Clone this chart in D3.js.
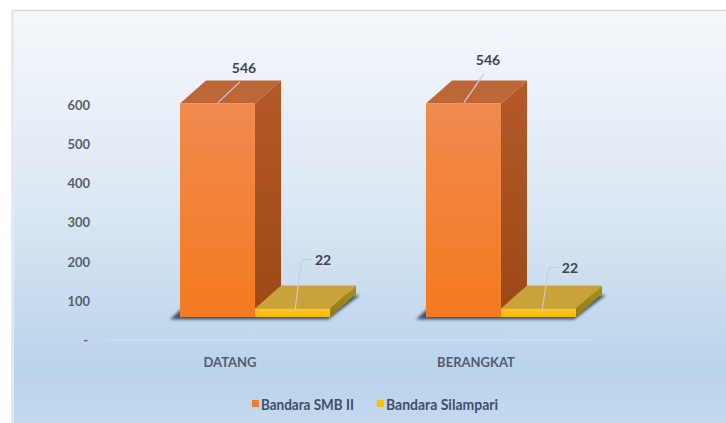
<!DOCTYPE html>
<html>
<head>
<meta charset="utf-8">
<script src="https://cdn.jsdelivr.net/npm/d3@7"></script>
<style>
  html, body { margin: 0; padding: 0; background: #ffffff; }
  svg { display: block; }
  text { font-family: Lato, "Open Sans", "DejaVu Sans", sans-serif; font-weight: 700; }
</style>
</head>
<body>
<svg id="chart" width="726" height="423"></svg>
<script>
// Passenger counts per direction for the two airports
const categories = ["DATANG", "BERANGKAT"];
const seriesNames = ["Bandara SMB II", "Bandara Silampari"];
const smbValues = [546, 546];
const silampariValues = [22, 22];
const yTickValues = [0, 100, 200, 300, 400, 500, 600];

const series = [
  { name: seriesNames[0], values: smbValues,
    front: ["#f08a4f", "#f47a1f"], side: ["#b35a27", "#9c4816"], top: "#bf6637", swatch: "#ed7d31" },
  { name: seriesNames[1], values: silampariValues,
    front: ["#ffc72c", "#f5b800"], side: ["#a88f1e", "#957c12"], top: "#c9a33a", swatch: "#ffc000" }
];

const W = 726, H = 423;
const svg = d3.select("#chart");
const defs = svg.append("defs");

// Chart area background
const bg = defs.append("linearGradient").attr("id", "bg").attr("x1", 0).attr("y1", 0).attr("x2", 0).attr("y2", 1);
bg.append("stop").attr("offset", "0%").attr("stop-color", "#f5f8fc");
bg.append("stop").attr("offset", "45%").attr("stop-color", "#dde8f4");
bg.append("stop").attr("offset", "88%").attr("stop-color", "#b9d3eb");
bg.append("stop").attr("offset", "100%").attr("stop-color", "#c4d9ed");

svg.append("rect").attr("x", 12).attr("y", 10).attr("width", W - 12).attr("height", H - 10)
  .attr("fill", "url(#bg)");
svg.append("line").attr("x1", 12).attr("x2", W).attr("y1", 10.5).attr("y2", 10.5)
  .attr("stroke", "#d8dcdf").attr("stroke-width", 1.5);
svg.append("line").attr("x1", 12.5).attr("x2", 12.5).attr("y1", 10).attr("y2", H)
  .attr("stroke", "#e4e9ef").attr("stroke-width", 3);

// Face gradients
series.forEach((s, i) => {
  const f = defs.append("linearGradient").attr("id", "front" + i).attr("x1", 0).attr("y1", 0).attr("x2", 0).attr("y2", 1);
  f.append("stop").attr("offset", "0%").attr("stop-color", s.front[0]);
  f.append("stop").attr("offset", "100%").attr("stop-color", s.front[1]);
  const sd = defs.append("linearGradient").attr("id", "side" + i).attr("x1", 0).attr("y1", 0).attr("x2", 0).attr("y2", 1);
  sd.append("stop").attr("offset", "0%").attr("stop-color", s.side[0]);
  sd.append("stop").attr("offset", "100%").attr("stop-color", s.side[1]);
});

const blur = defs.append("filter").attr("id", "shadowBlur").attr("x", "-20%").attr("y", "-50%").attr("width", "140%").attr("height", "200%");
blur.append("feGaussianBlur").attr("stdDeviation", 1.4);

// Scales
const y = d3.scaleLinear().domain([0, 600]).range([340, 105.5]);
const x = d3.scaleBand().domain(categories).range([57, 699]).paddingInner(0.39).paddingOuter(0.5);
const xs = d3.scaleBand().domain(seriesNames).range([0, x.bandwidth()]);

// Depth of the 3D boxes
const DX = 26, DY = -23;
const yFront = v => y(v) + DY;   // front face sits one depth step above the axis floor

// Value axis (labels only)
const yAxis = d3.axisLeft(y).tickValues(yTickValues).tickSize(0).tickPadding(0)
  .tickFormat(d => d === 0 ? "-" : d3.format("d")(d));
const gy = svg.append("g").attr("transform", "translate(90,0)").call(yAxis);
gy.select(".domain").remove();
gy.selectAll("text").attr("fill", "#5a5f68").attr("font-size", 13)
  .attr("font-family", "Lato, sans-serif").attr("font-weight", 700)
  .attr("dx", d => d === 0 ? -2 : 0);

// Floor line
svg.append("line").attr("x1", 105).attr("x2", 593).attr("y1", y(0)).attr("y2", y(0))
  .attr("stroke", "#ffffff").attr("stroke-opacity", 0.18).attr("stroke-width", 1.5);

// Bars
const groups = svg.append("g").selectAll("g.cat").data(categories).join("g").attr("class", "cat");

groups.each(function(cat, ci) {
  const g = d3.select(this);
  const gx = x(cat);
  const bw = x.bandwidth();
  const base = yFront(0);

  // soft shadow of the footprint
  g.append("path")
    .attr("d", `M${gx - 10},${base + 2.5} L${gx + bw - 2},${base + 2.5} L${gx + bw + DX + 4},${base + DY + 1} L${gx + DX - 10},${base + DY + 1} Z`)
    .attr("fill", "#1e3350").attr("opacity", 0.8).attr("filter", "url(#shadowBlur)");

  series.forEach((s, si) => {
    const v = s.values[ci];
    const x0 = gx + xs(s.name), x1 = x0 + xs.bandwidth();
    const yt = yFront(v), yb = base;
    // right side face
    g.append("path")
      .attr("d", `M${x1},${yt} L${x1 + DX},${yt + DY} L${x1 + DX},${yb + DY} L${x1},${yb} Z`)
      .attr("fill", `url(#side${si})`);
    // top face
    g.append("path")
      .attr("d", `M${x0},${yt} L${x1},${yt} L${x1 + DX},${yt + DY} L${x0 + DX},${yt + DY} Z`)
      .attr("fill", s.top);
    // front face
    g.append("rect").attr("x", x0).attr("y", yt).attr("width", x1 - x0).attr("height", yb - yt)
      .attr("fill", `url(#front${si})`);
  });
});

// Data labels with leader lines (label offsets from the top of each bar)
const labelOffsets = [
  [{ dx: 64, dy: -36 }, { dx: 62, dy: -44 }],
  [{ dx: 68, dy: -48 }, { dx: 69, dy: -40 }]
];
const labels = svg.append("g");
series.forEach((s, si) => {
  categories.forEach((cat, ci) => {
    const v = s.values[ci];
    const x0 = x(cat) + xs(s.name);
    const yt = yFront(v);
    const off = labelOffsets[si][ci];
    const lx = x0 + off.dx, ly = yt + off.dy;
    let d;
    if (si === 0) {
      // diagonal leader across the top face
      d = `M${x0 + 38},${yt - 1} L${lx - 4},${ly + 14}`;
    } else {
      // elbow leader down onto the thin bar
      d = `M${lx - 11},${ly - 1} L${lx - 20},${ly - 1} L${lx - 22},${ly + 4} L${lx - 28},${yt + 2}`;
    }
    labels.append("path").attr("d", d).attr("fill", "none")
      .attr("stroke", "#c9ced6").attr("stroke-width", 1.2);
    labels.append("text").attr("x", lx).attr("y", ly + 5)
      .attr("text-anchor", "middle").attr("font-size", 14)
      .attr("fill", "#3f4350").text(v);
  });
});

// Category labels
svg.append("g").selectAll("text").data(categories).join("text")
  .attr("x", d => x(d) + 50).attr("y", 367)
  .attr("text-anchor", "middle").attr("font-size", 13)
  .attr("fill", "#545c6c").text(d => d);

// Legend
const legend = svg.append("g").attr("transform", "translate(252,0)");
const legendX = [0, 125];
series.forEach((s, i) => {
  const lg = legend.append("g").attr("transform", `translate(${legendX[i]},0)`);
  lg.append("rect").attr("x", 0).attr("y", 400).attr("width", 7).attr("height", 7).attr("fill", s.swatch);
  lg.append("text").attr("x", 9).attr("y", 409.5).attr("font-size", 14.5)
    .attr("textLength", i === 0 ? 93 : 112).attr("lengthAdjust", "spacingAndGlyphs")
    .attr("fill", "#414d69").text(s.name);
});
</script>
</body>
</html>
